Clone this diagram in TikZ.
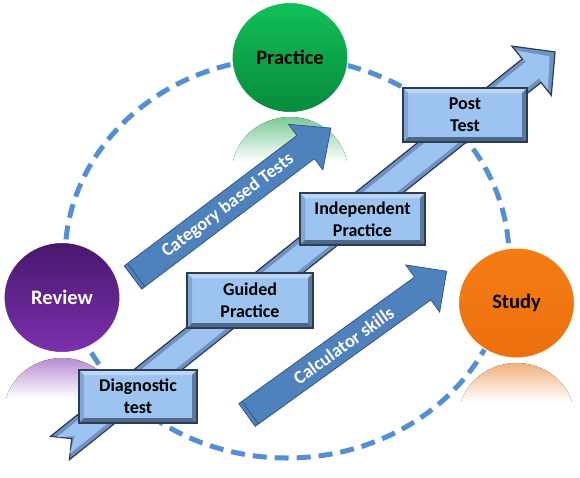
\documentclass[tikz,border=0pt]{standalone}
\usepackage{fontspec}
\setmainfont{Carlito}
\usetikzlibrary{shapes.geometric}

\definecolor{ringblue}{RGB}{85,142,213}
\definecolor{practicetop}{RGB}{18,192,88}
\definecolor{practicebot}{RGB}{8,138,60}
\definecolor{practicefade}{RGB}{122,202,152}
\definecolor{reviewtop}{RGB}{72,24,108}
\definecolor{reviewbot}{RGB}{124,48,174}
\definecolor{reviewfade}{RGB}{182,140,210}
\definecolor{studytop}{RGB}{245,124,20}
\definecolor{studybot}{RGB}{236,112,14}
\definecolor{studyfade}{RGB}{240,176,124}
\definecolor{boxface}{RGB}{157,195,240}
\definecolor{boxedge}{RGB}{44,60,82}
\definecolor{bevellight}{RGB}{190,214,245}
\definecolor{bevelmid}{RGB}{130,165,210}
\definecolor{beveldark}{RGB}{92,122,160}
\definecolor{bevelbot}{RGB}{78,104,138}
\definecolor{rimlight}{RGB}{112,146,192}
\definecolor{arrowdark}{RGB}{79,129,189}
\definecolor{arrowedge}{RGB}{52,88,132}

\def\ppbb{path picture bounding box}
\newcommand{\arrowpath}[6]{(#6,#2) -- ({#1-#4},#2) -- ({#1-#4},#3) -- (#1,0) -- ({#1-#4},-#3) -- ({#1-#4},-#2) -- (#6,-#2) -- ({#6+#5},0) -- cycle}

\tikzset{
  stagecircle/.style={ellipse, minimum width=116pt, minimum height=110pt, inner sep=0pt,
    draw=white, line width=1pt, font=\fontsize{20.5}{24}\selectfont\bfseries},
  stagebox/.style={rectangle, draw=boxedge, line width=1.2pt, fill=boxface,
    minimum width=124pt, minimum height=54pt, inner sep=0pt, align=center,
    font=\fontsize{18}{22}\selectfont\bfseries,
    path picture={
      \fill[bevellight] (\ppbb.north west) -- (\ppbb.north east) -- ([shift={(-5pt,-5pt)}]\ppbb.north east) -- ([shift={(5pt,-5pt)}]\ppbb.north west) -- cycle;
      \fill[bevelmid] (\ppbb.north west) -- ([shift={(5pt,-5pt)}]\ppbb.north west) -- ([shift={(5pt,5pt)}]\ppbb.south west) -- (\ppbb.south west) -- cycle;
      \fill[beveldark] (\ppbb.north east) -- ([shift={(-5pt,-5pt)}]\ppbb.north east) -- ([shift={(-5pt,5pt)}]\ppbb.south east) -- (\ppbb.south east) -- cycle;
      \fill[bevelbot] (\ppbb.south west) -- ([shift={(5pt,5pt)}]\ppbb.south west) -- ([shift={(-5pt,5pt)}]\ppbb.south east) -- (\ppbb.south east) -- cycle;
    }},
  arrowtext/.style={text=white, inner sep=0pt, font=\fontsize{18.5}{22}\selectfont\bfseries},
}

\begin{document}
\begin{tikzpicture}[x=1pt, y=-1pt]
  \useasboundingbox (0,0) rectangle (580,477);
  \fill[white] (0,0) rectangle (580,477);

  \begin{scope}
    \clip (230,117) rectangle (350,165);
    \clip (290,172) ellipse (58 and 55);
    \fill[top color=practicefade, bottom color=white] (230,117) rectangle (350,162);
  \end{scope}
  \begin{scope}
    \clip (0,358) rectangle (125,402);
    \clip (62,413) ellipse (58 and 55);
    \fill[top color=reviewfade, bottom color=white] (0,358) rectangle (125,398);
  \end{scope}
  \begin{scope}
    \clip (455,363) rectangle (580,407);
    \clip (516.5,418) ellipse (58 and 55);
    \fill[top color=studyfade, bottom color=white] (455,363) rectangle (580,402);
  \end{scope}

  \draw[ringblue, line width=5pt, dash pattern=on 14pt off 8pt] (287,258) ellipse (222 and 200);

  \node[stagecircle, top color=practicetop, bottom color=practicebot] (practice) at (290,57.5) {Practice};
  \node[stagecircle, top color=reviewtop, bottom color=reviewbot, text=white] (review) at (62,297.5) {Review};
  \node[stagecircle, top color=studytop, bottom color=studybot] (study) at (516.5,303) {Study};

  \begin{scope}[shift={(60,448)}, rotate=38.66]
    \fill[draw=boxedge, line width=1.2pt, fill=rimlight] \arrowpath{634}{15}{31.5}{30}{15}{0};
    \fill[boxface] \arrowpath{627}{10.5}{25}{22}{15}{4};
  \end{scope}

  \begin{scope}[shift={(133,277.5)}, rotate=37.06]
    \fill[draw=arrowedge, line width=0.8pt, fill=arrowdark] \arrowpath{248}{14.5}{28.5}{31.6}{0}{0};
    \draw[arrowedge, line width=0.8pt] (4,-14.5) -- (4,14.5);
    \node[arrowtext, transform shape] (catlabel) at (119,0) {Category based Tests};
  \end{scope}

  \begin{scope}[shift={(247,415)}, rotate=35.76]
    \fill[draw=arrowedge, line width=0.8pt, fill=arrowdark] \arrowpath{246}{14}{29}{29.5}{0}{0};
    \draw[arrowedge, line width=0.8pt] (4,-14) -- (4,14);
    \node[arrowtext, transform shape] (calclabel) at (119,0) {Calculator skills};
  \end{scope}

  \node[stagebox, minimum width=118pt, minimum height=53pt] (diag) at (138,396.5) {Diagnostic\\test};
  \node[stagebox, minimum width=126pt, minimum height=55pt] (guided) at (250,300.5) {Guided\\Practice};
  \node[stagebox, minimum width=125pt, minimum height=52pt] (indep) at (362.5,219) {Independent\\Practice};
  \node[stagebox] (post) at (465,115) {Post\\Test};
\end{tikzpicture}
\end{document}
